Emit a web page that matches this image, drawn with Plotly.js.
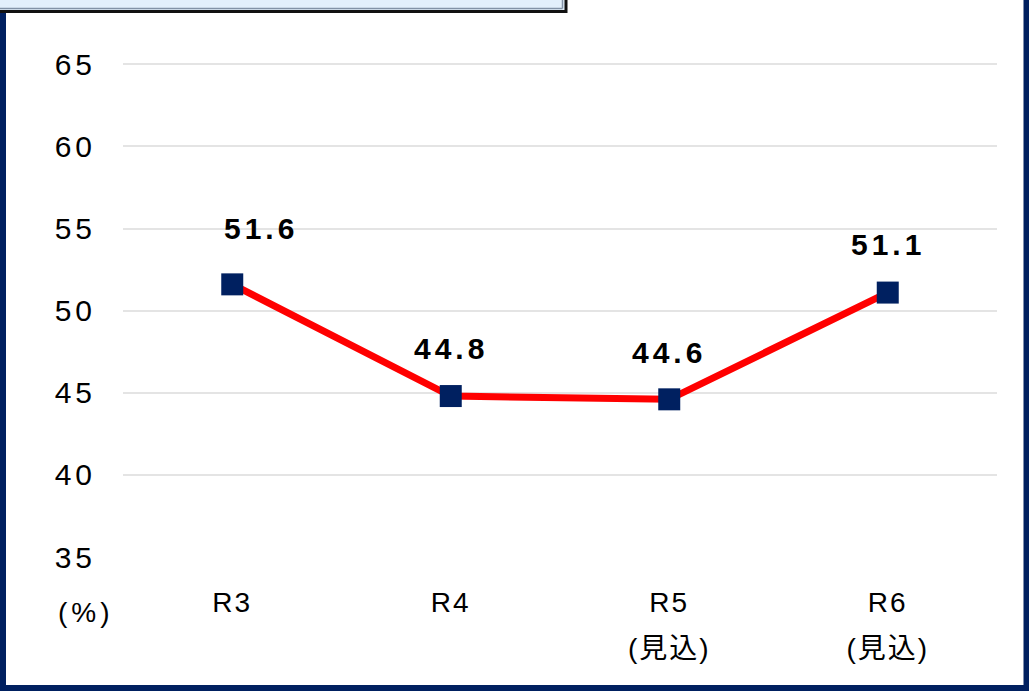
<!DOCTYPE html>
<html>
<head>
<meta charset="utf-8">
<script src="https://cdn.plot.ly/plotly-3.0.1.min.js"></script>
<style>
  html, body { margin: 0; padding: 0; background: #ffffff; }
  #chart { width: 1029px; height: 691px; }
  .ytick text { letter-spacing: 4px; }
  .xtick text { letter-spacing: 2px; }
  .annotation-text { letter-spacing: 4px; }
</style>
</head>
<body>
<div id="chart"></div>
<script>
// ---- data ----
const categories = ["R3", "R4", "R5", "R6"];
const tickLabels = ["R3", "R4", "R5<br>(見込)", "R6<br>(見込)"];
const values = [51.6, 44.8, 44.6, 51.1];
const yTicks = [35, 40, 45, 50, 55, 60, 65];
const unitLabel = "(%)";

// ---- styling for label placement (pixels) ----
const labelShiftX = [29, 0, 0, 0];
const labelShiftY = [56, 48, 47, 48];

const navy = "#002060";
const FONT = "'Liberation Sans', Arial, 'Noto Sans CJK JP', sans-serif";

// pixel helpers for decorative frame (plot area: x 123..997, y 61..557)
const L = 123, R = 997, T = 61, B = 557;
const px = v => (v - L) / (R - L);
const py = v => (B - v) / (B - T);

const trace = {
  x: categories,
  y: values,
  type: "scatter",
  mode: "lines+markers",
  line: { color: "#ff0000", width: 7 },
  marker: { symbol: "square", size: 22, color: navy, line: { width: 0 } },
  hoverinfo: "skip"
};

const annotations = categories.map((c, i) => ({
  x: c, y: values[i], xref: "x", yref: "y",
  text: values[i].toFixed(1),
  showarrow: false,
  xanchor: "center", yanchor: "middle",
  xshift: labelShiftX[i], yshift: labelShiftY[i],
  font: { family: FONT, size: 30, color: "#000000", weight: "bold" }
}));
annotations.push({
  x: px(86), y: py(612), xref: "paper", yref: "paper",
  text: unitLabel, showarrow: false,
  xanchor: "center", yanchor: "middle",
  font: { family: FONT, size: 28, color: "#000000" }
});

const shapes = [
  // hide gridline at bottom of range
  { type: "line", xref: "paper", yref: "y", x0: -0.01, x1: 1.01, y0: 35, y1: 35,
    line: { color: "#ffffff", width: 4 }, layer: "between" },
  // navy outer frame
  { type: "rect", xref: "paper", yref: "paper",
    x0: px(3), x1: px(1026.5), y0: py(688), y1: py(-20),
    line: { color: navy, width: 6 }, fillcolor: "rgba(0,0,0,0)", layer: "above" },
  // title box (cut off at top)
  { type: "rect", xref: "paper", yref: "paper",
    x0: px(-6), x1: px(566), y0: py(11.5), y1: py(-20),
    line: { color: "#111111", width: 3 }, fillcolor: "#e3f0fb", layer: "above" },
  { type: "line", xref: "paper", yref: "paper",
    x0: px(-6), x1: px(562.5), y0: py(8.5), y1: py(8.5),
    line: { color: "#8393a6", width: 1.5 }, layer: "above" },
  { type: "line", xref: "paper", yref: "paper",
    x0: px(562.5), x1: px(562.5), y0: py(8.5), y1: py(-20),
    line: { color: "#8393a6", width: 1.5 }, layer: "above" }
];

const layout = {
  width: 1029, height: 691,
  margin: { l: L, r: 1029 - R, t: T, b: 691 - B, pad: 0 },
  paper_bgcolor: "#ffffff",
  plot_bgcolor: "#ffffff",
  showlegend: false,
  font: { family: FONT, color: "#000000" },
  xaxis: {
    type: "category",
    tickmode: "array",
    tickvals: categories,
    ticktext: tickLabels,
    range: [-0.5, 3.5],
    showgrid: false, zeroline: false, showline: false,
    ticks: "",
    ticklabelstandoff: 26,
    tickfont: { family: FONT, size: 28, color: "#000000" },
    fixedrange: true
  },
  yaxis: {
    range: [35, 65.2],
    tickmode: "array",
    tickvals: yTicks,
    ticktext: yTicks.map(String),
    showgrid: true, gridcolor: "#e4e4e4", gridwidth: 2,
    zeroline: false, showline: false,
    ticks: "",
    ticklabelstandoff: 26,
    tickfont: { family: FONT, size: 30, color: "#000000" },
    fixedrange: true
  },
  annotations: annotations,
  shapes: shapes
};

Plotly.newPlot("chart", [trace], layout, { displayModeBar: false, staticPlot: true }).then(gd => {
  // widen line spacing of multi-line category labels
  gd.querySelectorAll(".xtick text tspan.line").forEach(t => {
    const dy = t.getAttribute("dy");
    if (dy && parseFloat(dy) > 0) t.setAttribute("dy", "1.65em");
  });
});
</script>
</body>
</html>
